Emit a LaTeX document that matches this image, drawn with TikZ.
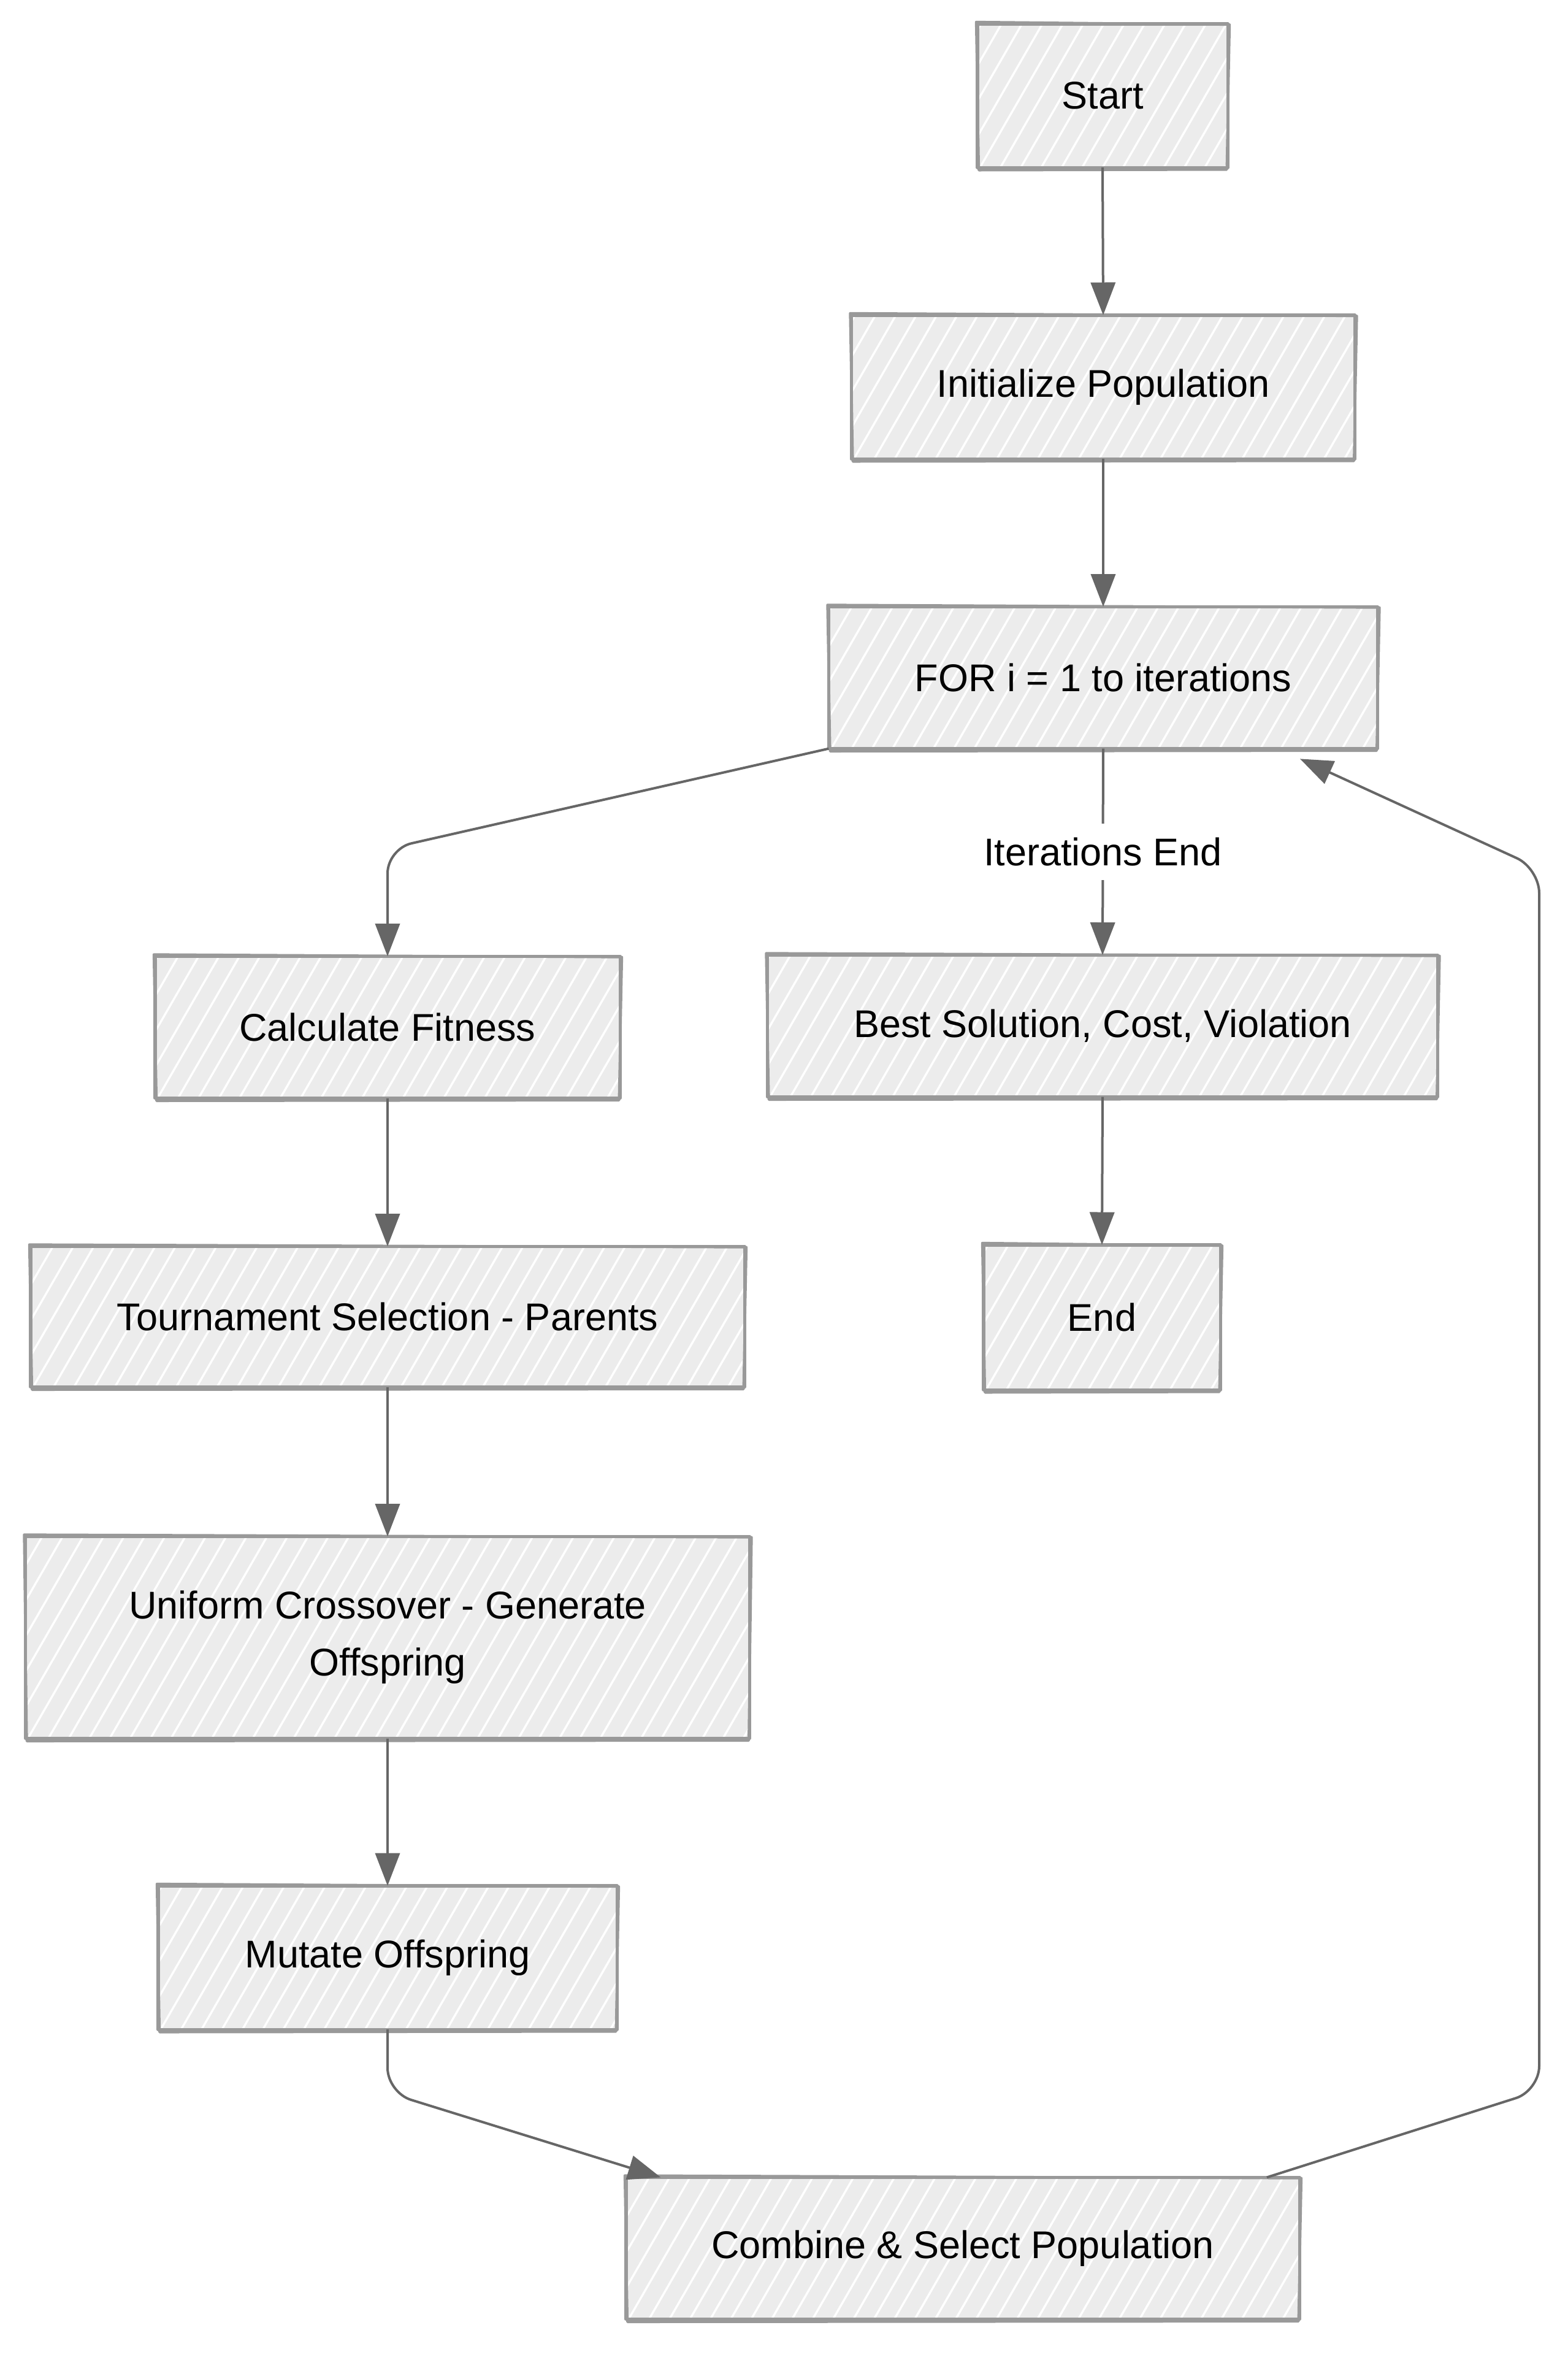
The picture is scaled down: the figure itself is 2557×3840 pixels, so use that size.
\documentclass[tikz,border=0pt]{standalone}
\usepackage{fontspec}
\setmainfont{Liberation Sans}
\usetikzlibrary{arrows.meta,calc}
\definecolor{bordc}{HTML}{999999}
\definecolor{fillc}{HTML}{ECECEC}
\definecolor{linec}{HTML}{666666}
\tikzset{
  hatchbox/.style={fill=fillc, draw=none, inner sep=0pt, align=center,
    font=\fontsize{18.9}{28}\selectfont,
    path picture={\foreach \k in {-14,...,40} {\draw[white, line width=1pt]
      ($(path picture bounding box.south west)+(\k*10pt,-2pt)$) -- ++(60:125pt);}}},
  roughline/.style={draw=bordc, line width=1.6pt, line join=round},
  conn/.style={draw=linec, line width=1.2pt, -{Triangle[length=16pt,width=12pt]}},
  lbl/.style={fill=white, inner sep=7pt, font=\fontsize{18.9}{28}\selectfont},
}
\newcommand\roughbox[6]{%
  \node[hatchbox, minimum width=#4*0.3pt, minimum height=#5*0.3pt] (#1) at (#2,#3) {#6};
  \draw[roughline] (#1.north west) rectangle (#1.south east);
  \draw[roughline, line width=1.2pt] ($(#1.north west)+(-0.6pt,0.9pt)$) -- ($(#1.north east)+(0.9pt,-0.4pt)$)
     -- ($(#1.south east)+(-0.5pt,-1pt)$) -- ($(#1.south west)+(0.7pt,-1.3pt)$) -- cycle;
}
\begin{document}
\begin{tikzpicture}[x=0.3pt,y=-0.3pt]
\useasboundingbox (0,0) rectangle (2557,3840);
\roughbox{nStart}{1798}{156}{407}{233}{Start}
\roughbox{nInit}{1799}{631}{820}{233}{Initialize Population}
\roughbox{nFor}{1799}{1105}{894}{230}{FOR i = 1 to iterations}
\roughbox{nCalc}{632}{1675}{757}{230}{Calculate Fitness}
\roughbox{nBest}{1798}{1673}{1092}{230}{Best Solution, Cost, Violation}
\roughbox{nTour}{632}{2147}{1163}{228}{Tournament Selection - Parents}
\roughbox{nEnd}{1797}{2148}{385}{235}{End}
\roughbox{nCross}{632}{2670}{1180}{328}{Uniform Crossover - Generate\\Offspring}
\roughbox{nMut}{632}{3192}{747}{233}{Mutate Offspring}
\roughbox{nComb}{1570}{3666}{1097}{230}{Combine \& Select Population}

\coordinate (c1) at (632,1384);
\coordinate (c2) at (632,3412);
\coordinate (c3) at (2510,3409);
\coordinate (c4) at (2510,1416);

\draw[conn] (nStart.south) -- (nInit.north);
\draw[conn] (nInit.south) -- (nFor.north);
\draw[conn, rounded corners=12pt] (nFor.south west) -- (c1) -- (nCalc.north);
\draw[conn] (nFor.south) -- node[lbl] {Iterations End} (nBest.north);
\draw[conn] (nBest.south) -- (nEnd.north);
\draw[conn] (nCalc.south) -- (nTour.north);
\draw[conn] (nTour.south) -- (nCross.north);
\draw[conn] (nCross.south) -- (nMut.north);
\draw[conn, rounded corners=12pt] (nMut.south) -- (c2) -- ([xshift=17pt]nComb.north west);
\draw[conn, rounded corners=12pt] ([xshift=-16pt]nComb.north east) -- (c3) -- (c4) -- ([xshift=-38pt,yshift=-5pt]nFor.south east);
\end{tikzpicture}
\end{document}
